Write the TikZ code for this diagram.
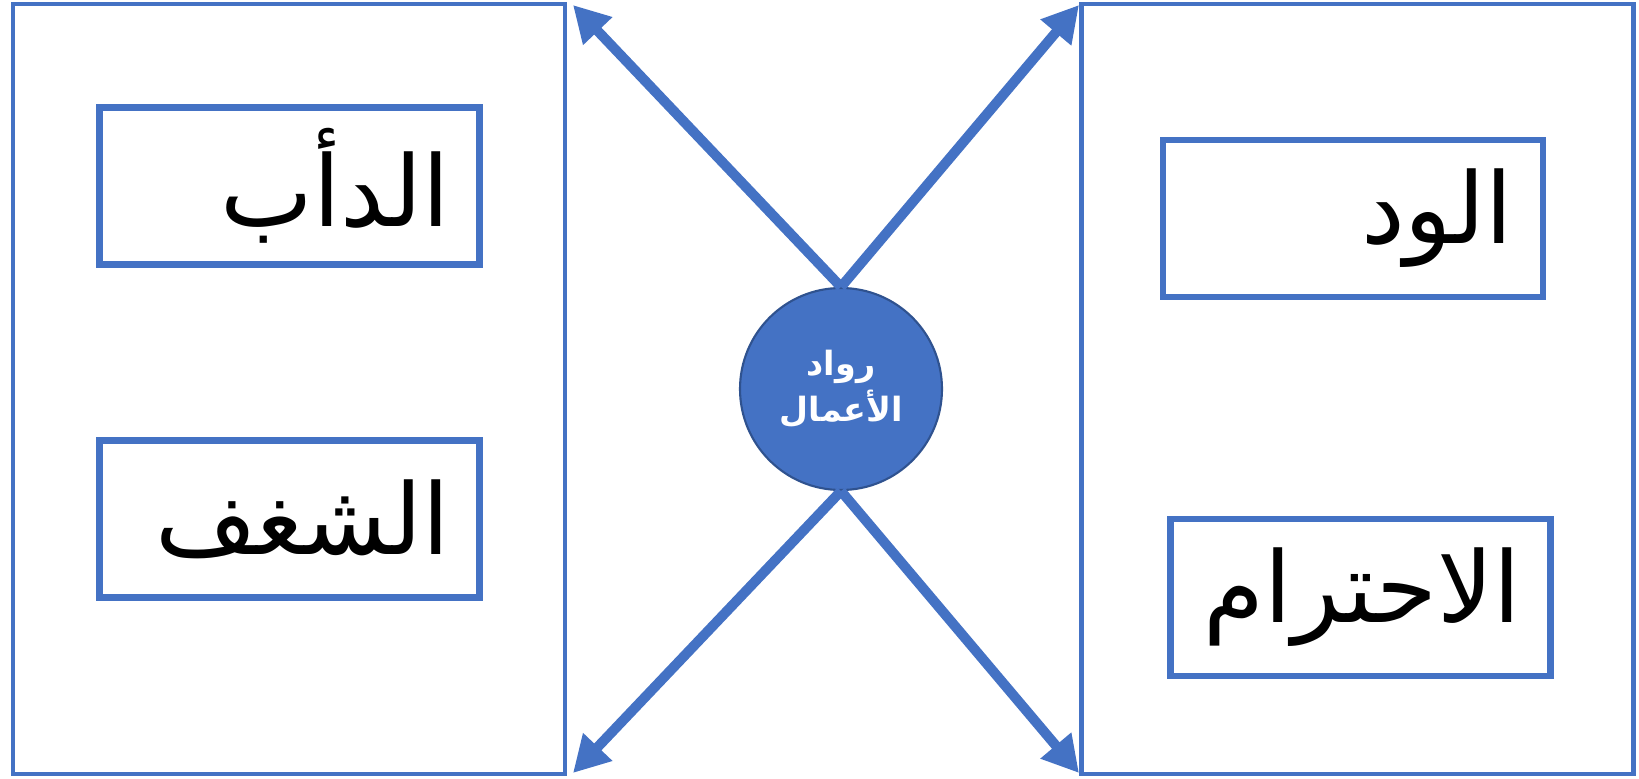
\documentclass[tikz,border=0pt]{standalone}
\usepackage{fontspec}
\usepackage{tikz}
\usetikzlibrary{arrows.meta}
\TeXXeTstate=1
\newfontfamily\arabicfont[Script=Arabic]{DejaVu Sans}
\definecolor{officeBlue}{HTML}{4472C4}
\definecolor{darkBlue}{HTML}{2F528F}

\begin{document}
\begin{tikzpicture}
               \tikzstyle{bigBox}=[draw=officeBlue, line width=1.4pt, minimum width=5.52cm, minimum height=7.7cm, inner sep=0pt]
               \tikzstyle{smallBox}=[draw=officeBlue, line width=1.8pt, minimum height=1.57cm, text width=3.2cm, inner xsep=0.3cm, align=flush right, font=\arabicfont\fontsize{28}{34}\selectfont]
               \tikzstyle{hub}=[circle, fill=officeBlue, draw=darkBlue, line width=0.6pt, minimum size=2.02cm, inner sep=0pt, text=white, align=center, font=\arabicfont\bfseries\fontsize{9.5}{13}\selectfont]
               \tikzstyle{arr}=[-{Triangle[length=0.36cm, width=0.38cm]}, officeBlue, line width=0.1cm]

               \useasboundingbox (0,0) rectangle (16.39,7.78);

               \node[bigBox] (L) at (2.89,3.89) {};
               \node[bigBox] (R) at (13.575,3.89) {};

               \node[smallBox] (dab) at (2.895,5.92) {\beginR الدأب\endR};
               \node[smallBox] (shaghaf) at (2.895,2.59) {\beginR الشغف\endR};
               \node[smallBox] (wudd) at (13.53,5.595) {\beginR الود\endR};
               \node[smallBox] (ihtiram) at (13.605,1.805) {\beginR الاحترام\endR};

               \coordinate (tl) at (5.73,7.73);
               \coordinate (tr) at (10.79,7.73);
               \coordinate (bl) at (5.73,0.05);
               \coordinate (br) at (10.79,0.05);

               \node[hub] (c) at (8.41,3.89) {\beginR رواد\endR\\\beginR الأعمال\endR};

               \draw[arr] (c.north) -- (tl);
               \draw[arr] (c.north) -- (tr);
               \draw[arr] (c.south) -- (bl);
               \draw[arr] (c.south) -- (br);
            \end{tikzpicture}
\end{document}
